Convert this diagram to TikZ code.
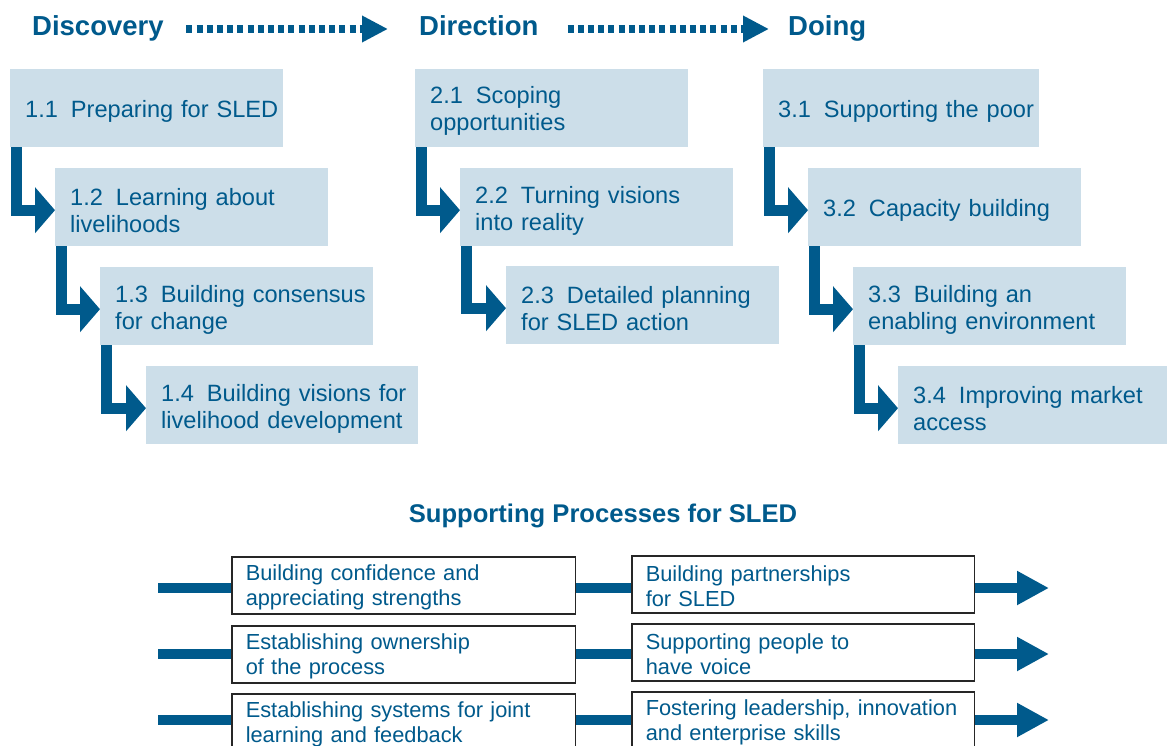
\documentclass[tikz,border=0pt]{standalone}
\usepackage{fontspec}
\setmainfont{Liberation Sans}
\usetikzlibrary{arrows.meta}
\definecolor{sledblue}{HTML}{005A8C}
\definecolor{sledfill}{HTML}{CCDEE9}
\newcommand\numgap{\hspace{0.55em}}
\newcommand\oneline[1]{\mbox{#1}}
\newcommand\topline[1]{\mbox{\rule{0pt}{23.5pt}#1}}
\newcommand\procline[1]{\mbox{\rule{0pt}{20pt}#1}}
\begin{document}
\begin{tikzpicture}[x=1pt,y=-1pt,
  header/.style={anchor=base west, inner sep=0pt, text height=20pt, text depth=6pt,
    text=sledblue, font=\fontsize{27.5}{30}\selectfont\bfseries},
  dotarrow/.style={draw=sledblue, line width=8pt, dash pattern=on 6pt off 4.2pt,
    -{Triangle[length=26pt,width=25pt]}},
  stage/.style={anchor=north west, fill=sledfill, minimum height=78pt,
    inner xsep=15pt, inner ysep=0pt, text width=243pt, align=left,
    text=sledblue, font=\fontsize{23.6}{27}\selectfont},
  larrow/.style={draw=sledblue, line width=11pt, line join=miter,
    -{Triangle[length=20pt,width=45pt]}},
  proc/.style={anchor=north west, fill=white, draw=black!85, line width=1.5pt,
    minimum height=57pt, inner xsep=14pt, inner ysep=0pt, text width=315.5pt,
    align=left, text=sledblue, font=\fontsize{21.8}{25}\selectfont},
  pline/.style={draw=sledblue, line width=10pt},
  parrow/.style={draw=sledblue, line width=10pt, -{Triangle[length=32pt,width=32pt]}},
  ptitle/.style={anchor=base, inner sep=0pt, text=sledblue,
    font=\fontsize{25.6}{28}\selectfont\bfseries}
]
\clip (0,0) rectangle (1167,746);

% headers
\node[header] (disc) at (32,36) {Discovery};
\node[header] (dir) at (419,36) {Direction};
\node[header] (doing) at (788,36) {Doing};
\draw[dotarrow, shorten <=22.5pt, shorten >=31pt] (disc.east) -- (dir.west);
\draw[dotarrow, shorten <=29pt, shorten >=19pt] (dir.east) -- (doing.west);

% stage boxes
\node[stage] (s11) at (10,69) {\topline{1.1\numgap Preparing for SLED}};
\node[stage] (s12) at (55,168) {\topline{1.2\numgap Learning about}\\\oneline{livelihoods}};
\node[stage] (s13) at (100,267) {\topline{1.3\numgap Building consensus}\\\oneline{for change}};
\node[stage, text width=242pt] (s14) at (146,366) {\topline{1.4\numgap Building visions for}\\\oneline{livelihood development}};

\node[stage] (s21) at (415,69) {\topline{2.1\numgap Scoping}\\\oneline{opportunities}};
\node[stage] (s22) at (460,168) {\topline{2.2\numgap Turning visions}\\\oneline{into reality}};
\node[stage] (s23) at (506,266) {\topline{2.3\numgap Detailed planning}\\\oneline{for SLED action}};

\node[stage, text width=246pt] (s31) at (763,69) {\topline{3.1\numgap Supporting the poor}};
\node[stage] (s32) at (808,168) {\topline{3.2\numgap Capacity building}};
\node[stage] (s33) at (853,267) {\topline{3.3\numgap Building an}\\\oneline{enabling environment}};
\node[stage] (s34) at (898,366) {\topline{3.4\numgap Improving market}\\\oneline{access}};

% L-shaped arrows
\draw[larrow] ([xshift=6pt]s11.south west) |- ([yshift=-3pt]s12.west);
\draw[larrow] ([xshift=6pt]s12.south west) |- ([yshift=-3pt]s13.west);
\draw[larrow] ([xshift=6pt]s13.south west) |- ([yshift=-3pt]s14.west);
\draw[larrow] ([xshift=6pt]s21.south west) |- ([yshift=-3pt]s22.west);
\draw[larrow] ([xshift=6pt]s22.south west) |- ([yshift=-3pt]s23.west);
\draw[larrow] ([xshift=6pt]s31.south west) |- ([yshift=-3pt]s32.west);
\draw[larrow] ([xshift=6pt]s32.south west) |- ([yshift=-3pt]s33.west);
\draw[larrow] ([xshift=6pt]s33.south west) |- ([yshift=-3pt]s34.west);

% supporting processes
\node[ptitle] (title) at (603,522) {Supporting Processes for SLED};

\node[proc] (l1) at (231,556) {\procline{Building confidence and}\\\oneline{appreciating strengths}};
\node[proc, text width=314.5pt] (r1) at (631,555) {\procline{Building partnerships}\\\oneline{for SLED}};
\node[proc] (l2) at (231,625) {\procline{Establishing ownership}\\\oneline{of the process}};
\node[proc, text width=314.5pt] (r2) at (631,623) {\procline{Supporting people to}\\\oneline{have voice}};
\node[proc, minimum height=58pt] (l3) at (231,693) {\procline{Establishing systems for joint}\\\oneline{learning and feedback}};
\node[proc, text width=314.5pt, minimum height=58pt] (r3) at (631,691) {\procline{Fostering leadership, innovation}\\\oneline{and enterprise skills}};

\coordinate (a1) at (158,588);
\coordinate (a2) at (158,654);
\coordinate (a3) at (158,720);
\coordinate (z1) at (1049,588);
\coordinate (z2) at (1049,654);
\coordinate (z3) at (1049,720);

\draw[pline] (a1) -- (a1 -| l1.west);
\draw[pline] (l1.east |- a1) -- (r1.west |- a1);
\draw[parrow] (r1.east |- a1) -- (z1);
\draw[pline] (a2) -- (a2 -| l2.west);
\draw[pline] (l2.east |- a2) -- (r2.west |- a2);
\draw[parrow] (r2.east |- a2) -- (z2);
\draw[pline] (a3) -- (a3 -| l3.west);
\draw[pline] (l3.east |- a3) -- (r3.west |- a3);
\draw[parrow] (r3.east |- a3) -- (z3);
\end{tikzpicture}
\end{document}
